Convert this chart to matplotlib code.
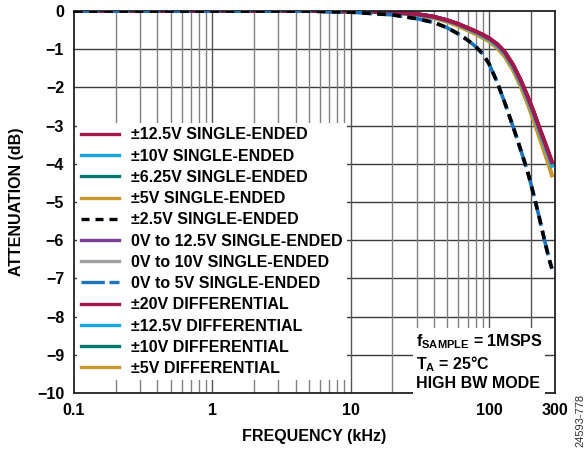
"""Attenuation vs frequency for each input range (recreated chart)."""

from matplotlib.figure import Figure
from matplotlib import rcParams

rcParams["font.family"] = ["Liberation Sans", "DejaVu Sans"]
rcParams["font.weight"] = "bold"
rcParams["mathtext.fontset"] = "custom"
rcParams["mathtext.rm"] = "Liberation Sans:bold"
rcParams["mathtext.it"] = "Liberation Sans:bold"
rcParams["mathtext.bf"] = "Liberation Sans:bold"

# frequency in kHz
freq = [0.1, 1, 5, 10, 20, 30, 40, 50, 60, 70, 80, 90, 100, 115, 130, 150, 170, 190, 210, 230, 250, 270, 285]
atten_red = [0, 0, 0, -0.01, -0.03, -0.08, -0.15, -0.24, -0.34, -0.44, -0.53, -0.62, -0.71, -0.87, -1.07,
             -1.42, -1.82, -2.23, -2.63, -3.03, -3.38, -3.71, -3.95]
atten_cyan = [0, 0, 0, -0.01, -0.03, -0.09, -0.16, -0.25, -0.35, -0.46, -0.55, -0.65, -0.74, -0.91, -1.11,
              -1.47, -1.88, -2.29, -2.7, -3.1, -3.46, -3.8, -4.05]
atten_teal = [0, 0, 0, -0.01, -0.03, -0.08, -0.15, -0.25, -0.35, -0.45, -0.54, -0.63, -0.72, -0.89, -1.09,
              -1.44, -1.85, -2.26, -2.66, -3.06, -3.42, -3.75, -4.0]
atten_gold = [0, 0, 0, -0.01, -0.04, -0.1, -0.18, -0.28, -0.39, -0.5, -0.6, -0.7, -0.79, -0.97, -1.19,
              -1.56, -1.98, -2.42, -2.85, -3.27, -3.66, -4.02, -4.3]
atten_purple = [0, 0, 0, -0.01, -0.03, -0.08, -0.15, -0.25, -0.35, -0.45, -0.55, -0.64, -0.73, -0.9, -1.1,
                -1.46, -1.86, -2.27, -2.68, -3.08, -3.44, -3.77, -4.02]
atten_gray = [0, 0, 0, -0.01, -0.03, -0.08, -0.15, -0.25, -0.35, -0.45, -0.55, -0.64, -0.73, -0.9, -1.1,
              -1.46, -1.86, -2.27, -2.68, -3.08, -3.44, -3.77, -4.02]
atten_black = [0, 0, 0, -0.03, -0.1, -0.2, -0.3, -0.44, -0.6, -0.76, -0.93, -1.12, -1.38, -1.88, -2.4,
               -3.05, -3.65, -4.2, -4.8, -5.38, -5.95, -6.45, -6.75]

labels = [
    "±12.5V SINGLE-ENDED",
    "±10V SINGLE-ENDED",
    "±6.25V SINGLE-ENDED",
    "±5V SINGLE-ENDED",
    "±2.5V SINGLE-ENDED",
    "0V to 12.5V SINGLE-ENDED",
    "0V to 10V SINGLE-ENDED",
    "0V to 5V SINGLE-ENDED",
    "±20V DIFFERENTIAL",
    "±12.5V DIFFERENTIAL",
    "±10V DIFFERENTIAL",
    "±5V DIFFERENTIAL",
]
series = [atten_red, atten_cyan, atten_teal, atten_gold, atten_black, atten_purple,
          atten_gray, atten_black, atten_red, atten_cyan, atten_teal, atten_gold]

RED = "#a3174a"
CYAN = "#1aa6de"
TEAL = "#00786f"
GOLD = "#c9982c"
PURPLE = "#7b3f98"
GRAY = "#a0a0a0"
BLUE = "#1c74bb"
colors = [RED, CYAN, TEAL, GOLD, "black", PURPLE, GRAY, BLUE, RED, CYAN, TEAL, GOLD]
# red sits on top of the bundle, then cyan, as in the original
stack = {RED: 2.4, CYAN: 2.3, GOLD: 2.1}

x_ticks = [0.1, 1, 10, 100, 300]
x_ticklabels = ["0.1", "1", "10", "100", "300"]
y_ticks = list(range(0, -11, -1))
y_ticklabels = ["0"] + [f"\u2212{-v}" for v in y_ticks[1:]]

FS = 11.5

figure = Figure(figsize=(5.87, 4.51), dpi=100)
axes = figure.add_axes([0.126, 0.1286, 0.8195, 0.847])

for label, values, color in zip(labels, series, colors):
    if color == "black":
        axes.plot(freq, values, color=color, lw=2.6, dashes=(2.4, 1.8), label=label, zorder=3)
    elif color == BLUE:
        axes.plot(freq, values, color=color, lw=2.6, dashes=(7, 1.4), label=label, zorder=2.8)
    else:
        axes.plot(freq, values, color=color, lw=2.8, label=label, zorder=stack.get(color, 2))

axes.set_xscale("log")
axes.set_xlim(0.1, 300)
axes.set_ylim(-10, 0)
axes.set_xticks(x_ticks, x_ticklabels)
axes.set_xticks([], minor=True)
axes.set_yticks(y_ticks, y_ticklabels)

# grid: dark horizontal + decade lines, lighter minor vertical lines
for v in y_ticks[1:-1]:
    axes.axhline(v, color="#3c3c3c", lw=1.0, zorder=1)
for decade in [0.1, 1, 10]:
    for m in range(2, 10):
        axes.axvline(decade * m, color="#808080", lw=1.0, zorder=1)
for f in [1, 10, 100, 200]:
    axes.axvline(f, color="#555555", lw=1.0, zorder=1)

axes.tick_params(length=0, labelsize=FS, pad=7)
for spine in axes.spines.values():
    spine.set_color("#222222")
    spine.set_linewidth(1.3)

axes.set_xlabel("FREQUENCY (kHz)", fontsize=FS, fontweight="bold", labelpad=8)
axes.set_ylabel("ATTENUATION (dB)", fontsize=FS, fontweight="bold", labelpad=9)

legend = axes.legend(loc="upper left", bbox_to_anchor=(0.0, 0.714), fontsize=FS,
                     frameon=True, fancybox=False, framealpha=1, edgecolor="none",
                     facecolor="white", handlelength=2.4, handletextpad=0.75,
                     labelspacing=0.39, borderpad=0.25, borderaxespad=0.2)
legend.set_zorder(4)
for line in legend.get_lines():
    line.set_linewidth(2.4)

axes.text(0.71, 0.004,
          "$\\mathregular{f_{SAMPLE}}$ = 1MSPS\n$\\mathregular{T_A}$ = 25°C\nHIGH BW MODE",
          transform=axes.transAxes, fontsize=FS, fontweight="bold", va="bottom", ha="left",
          linespacing=1.22, zorder=4,
          bbox=dict(facecolor="white", edgecolor="none", pad=2))

figure.text(0.988, 0.067, "24593-778", rotation=90, fontsize=8, fontweight="normal",
            color="#333333", ha="center", va="center")

figure.savefig("out.png", dpi=100)
